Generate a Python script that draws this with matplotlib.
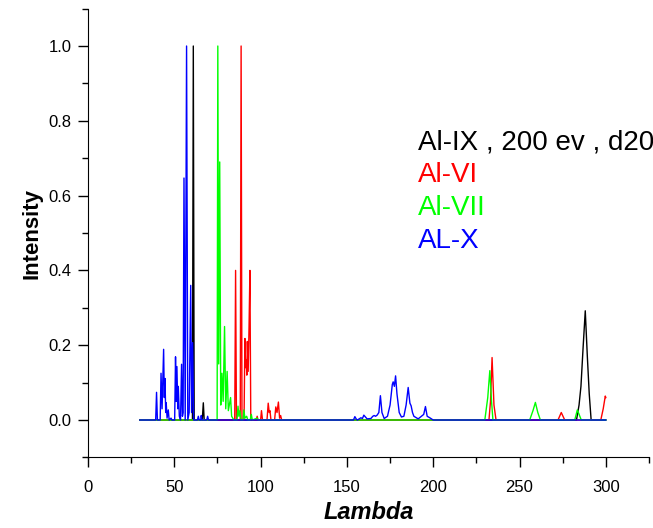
import numpy as np
import matplotlib
matplotlib.use("Agg")
import matplotlib.pyplot as plt
from matplotlib.ticker import MultipleLocator

plt.rcParams['font.family'] = ['Liberation Sans', 'DejaVu Sans']

# Al-IX , 200 ev , d20 (black)
black_x = [30, 60.5, 61.0, 61.5, 66.2, 66.8, 67.3, 283.0, 284.5, 285.6, 286.8, 288.1,
           289.3, 290.4, 291.5, 300]
black_y = [0, 0, 1.0, 0, 0, 0.046, 0, 0, 0.04, 0.09, 0.19, 0.292,
           0.17, 0.07, 0, 0]

# Al-VI (red)
red_x = [30, 85.0, 85.5, 86.0, 88.2, 88.7, 89.2, 90.4, 90.9, 91.3, 91.7, 92.0, 92.3,
         92.8, 93.3, 93.8, 94.3, 97.5, 98.0, 98.5, 100.0, 100.5, 101.1, 103.7, 104.4,
         105.0, 105.4, 106.0, 108.1, 108.8, 109.5, 110.3, 111.0, 111.6, 112.2,
         232.3, 233.2, 234.1, 235.2, 236.4, 272.3, 274.2, 276.2, 297.1, 298.5, 299.7, 300]
red_y = [0, 0, 0.40, 0, 0, 1.0, 0, 0, 0.218, 0.14, 0.16, 0.12, 0.21,
         0.13, 0.25, 0.40, 0, 0, 0.01, 0, 0, 0.025, 0, 0, 0.045,
         0.02, 0.025, 0, 0, 0.035, 0.02, 0.048, 0.005, 0.012, 0,
         0, 0.05, 0.167, 0.04, 0, 0, 0.02, 0, 0, 0.03, 0.064, 0.06]

# Al-VII (green)
green_x = [30, 74.8, 75.2, 75.7, 76.3, 76.9, 77.6, 78.3, 79.1, 79.8, 80.6, 81.3, 82.6,
           83.2, 84.5, 86.3, 86.9, 87.4, 88.0, 88.6, 89.8, 90.3, 90.9, 91.9, 92.6,
           94.0, 94.6, 95.2, 98.0, 98.5, 229.9, 231.6, 232.8, 233.8, 234.6,
           255.9, 257.8, 259.2, 260.6, 262.1, 282.0, 283.5, 285.8, 300]
green_y = [0, 0, 1.0, 0.15, 0.69, 0.04, 0.125, 0.05, 0.25, 0.03, 0.13, 0.025, 0.06,
           0.01, 0, 0, 0.037, 0.01, 0.025, 0, 0, 0.027, 0.005, 0.01, 0,
           0, 0.015, 0, 0.005, 0, 0, 0.06, 0.132, 0.05, 0,
           0, 0.025, 0.047, 0.02, 0, 0, 0.027, 0, 0]

# AL-X (blue)
blue_x = [30, 39.2, 39.7, 40.2, 41.8, 42.3, 42.9, 43.8, 44.2, 44.6, 45.0, 45.3, 45.8,
          46.5, 47.0, 48.1, 48.6, 50.2, 50.7, 51.1, 51.5, 52.0, 52.3, 52.9, 53.6,
          54.2, 54.7, 55.1, 55.6, 56.3, 57.1, 57.8, 58.6, 59.5, 60.0, 60.6, 61.2,
          63.4, 63.9, 64.4, 65.3, 65.6, 66.0, 68.8, 69.3, 69.8,
          153.8, 154.6, 155.5, 156.1, 158.1, 159.0, 159.8, 161.7, 163.9, 165.0, 165.8,
          166.6, 167.5, 168.5, 169.4, 170.3, 171.6, 173.5, 175.0, 176.3, 176.8, 177.5,
          178.2, 179.0, 180.3, 181.6, 183.0, 184.3, 185.5, 186.5, 187.2, 188.0, 188.8,
          191.3, 194.5, 195.5, 196.5, 198.0, 200.0, 300]
blue_y = [0, 0, 0.074, 0, 0, 0.125, 0.03, 0.189, 0.06, 0.111, 0.02, 0.046, 0.005,
          0.027, 0, 0.005, 0, 0, 0.169, 0.05, 0.143, 0.03, 0.09, 0.01, 0,
          0.149, 0.01, 0.02, 0.647, 0, 1.0, 0, 0.02, 0.36, 0.02, 0.207, 0,
          0, 0.01, 0, 0, 0.012, 0, 0, 0.01, 0,
          0, 0.009, 0.002, 0, 0.006, 0.004, 0.013, 0.003, 0.004, 0.01, 0.012,
          0.01, 0.013, 0.02, 0.065, 0.02, 0.004, 0.01, 0.04, 0.095, 0.102, 0.09,
          0.118, 0.07, 0.02, 0.008, 0.01, 0.04, 0.087, 0.045, 0.038, 0.02, 0.01,
          0.003, 0.015, 0.036, 0.01, 0.006, 0, 0]

labels = ["Al-IX , 200 ev , d20", "Al-VI", "Al-VII", "AL-X"]
colors = ["black", "#ff0000", "#00ff00", "#0000ff"]

fig = plt.figure(figsize=(6.53, 5.28), dpi=100)
ax = fig.add_axes([0.1348, 0.1337, 0.859, 0.85])

series = [(black_x, black_y), (red_x, red_y), (green_x, green_y), (blue_x, blue_y)]
for (xs, ys), c in zip(series, colors):
    ax.plot(xs, ys, color=c, lw=1.0)

ax.set_xlim(0, 325)
ax.set_ylim(-0.1, 1.1)
ax.spines['top'].set_visible(False)
ax.spines['right'].set_visible(False)
ax.xaxis.set_major_locator(MultipleLocator(50))
ax.xaxis.set_minor_locator(MultipleLocator(25))
ax.yaxis.set_major_locator(MultipleLocator(0.2))
ax.yaxis.set_minor_locator(MultipleLocator(0.1))
ax.yaxis.set_major_formatter(matplotlib.ticker.FormatStrFormatter('%.1f'))
ax.tick_params(which='major', length=7, width=1, labelsize=12, pad=5)
ax.tick_params(axis='x', which='major', pad=9.5)
ax.tick_params(which='minor', length=4, width=1)

ax.set_xlabel("Lambda", fontsize=17, fontweight='bold', fontstyle='italic', labelpad=4)
ax.set_ylabel("Intensity", fontsize=16, fontweight='bold', labelpad=4)

# legend as coloured text lines
for i, (lab, c) in enumerate(zip(labels, colors)):
    fig.text(418 / 653, 1 - (149.3 + 32.8 * i) / 528, lab, color=c,
             fontsize=20, va='baseline', ha='left')

fig.savefig("out.png", dpi=100)
